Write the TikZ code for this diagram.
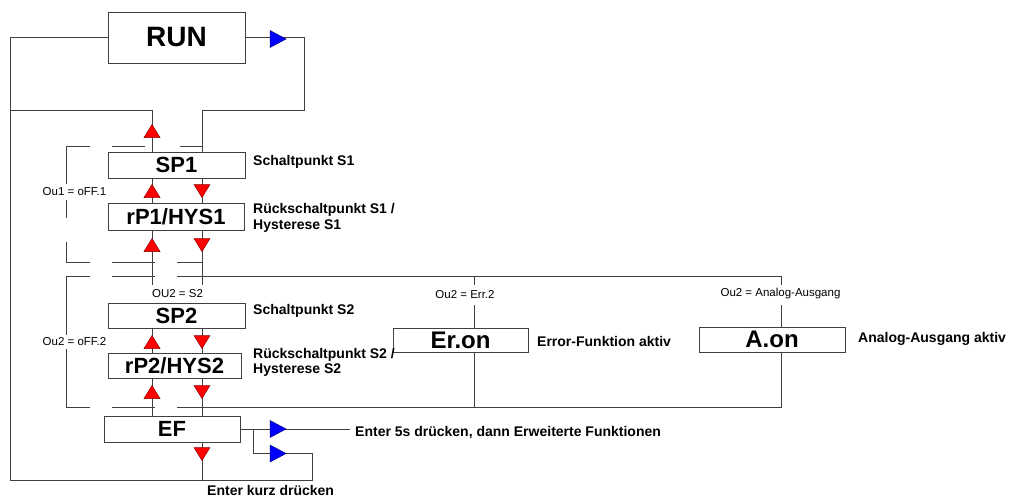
\documentclass[tikz,border=0pt]{standalone}
\usepackage{fontspec}
\setmainfont{Liberation Sans}
\begin{document}
\begin{tikzpicture}[x=1pt,y=-1pt,
  ln/.style={draw=black!75,line width=1pt},
  box/.style={draw=black!75,line width=1pt,fill=white,inner sep=0pt,font=\bfseries\fontsize{22}{24}\selectfont},
  lbl/.style={inner sep=0pt,anchor=west,align=left,font=\bfseries\fontsize{14}{16}\selectfont},
  sml/.style={inner sep=0pt,font=\fontsize{11.5}{13}\selectfont},
  uptri/.pic={\filldraw[fill=red,draw=red!55!black,line width=0.5pt] (-8,6.5) -- (8,6.5) -- (0,-6.5) -- cycle;},
  dntri/.pic={\filldraw[fill=red,draw=red!55!black,line width=0.5pt] (-8,-6.5) -- (8,-6.5) -- (0,6.5) -- cycle;},
  rttri/.pic={\filldraw[fill=blue,draw=blue!50!black,line width=0.5pt] (-8,-8.5) -- (-8,8.5) -- (8,0) -- cycle;}
]
\useasboundingbox (0,0) rectangle (1011,499);
\fill[white] (0,0) rectangle (1011,499);

% column coordinates
\coordinate (cl) at (152,0);
\coordinate (cr) at (202,0);
\coordinate (ce) at (474,0);
\coordinate (ca) at (781,0);

% boxes
\node[box,minimum width=137pt,minimum height=51pt,font=\bfseries\fontsize{28}{30}\selectfont] (run) at (176.5,37.5) {RUN};
\node[box,minimum width=137pt,minimum height=26pt] (sp1) at (176.5,165) {SP1};
\node[box,minimum width=136pt,minimum height=27pt] (rp1) at (176,216.5) {rP1/HYS1};
\node[box,minimum width=137pt,minimum height=25pt] (sp2) at (176.5,315.5) {SP2};
\node[box,minimum width=133pt,minimum height=25pt] (rp2) at (174.5,365.5) {rP2/HYS2};
\node[box,minimum width=136pt,minimum height=26pt] (ef) at (172,429) {EF};
\node[box,minimum width=135pt,minimum height=24pt,font=\bfseries\fontsize{24}{26}\selectfont] (eron) at (460.5,340) {Er.on};
\node[box,minimum width=146pt,minimum height=25pt,font=\bfseries\fontsize{24}{26}\selectfont] (aon) at (772,339.5) {A.on};

% side labels
\node[lbl] (t1) at (253,162) {Schaltpunkt S1};
\node[lbl] (t2) at (253,218) {Rückschaltpunkt S1 /\\Hysterese S1};
\node[lbl] (t3) at (253,311) {Schaltpunkt S2};
\node[lbl,font=\bfseries\fontsize{14}{15}\selectfont] (t4) at (253,362.5) {Rückschaltpunkt S2 /\\Hysterese S2};
\node[lbl] (t5) at (537,341) {Error-Funktion aktiv};
\node[lbl] (t6) at (858,339) {Analog-Ausgang aktiv};
\node[lbl] (t7) at (355,433) {Enter 5s drücken, dann Erweiterte Funktionen};
\node[lbl] (t8) at (207,490) {Enter kurz drücken};

% small labels
\node[sml] (s1) at (74.5,192) {Ou1 = oFF.1};
\node[sml] (s2) at (74.5,342) {Ou2 = oFF.2};
\node[sml] (s3) at (177.5,294) {OU2 = S2};
\node[sml] (s4) at (465,295) {Ou2 = Err.2};
\node[sml] (s5) at (780.5,294) {Ou2 = Analog-Ausgang};

% main loop lines
\draw[ln] (run.west) -- (10,37.5) -- (10,480) -- (312,480) -- (312,453) -- (253,453) -- (253,429);
\draw[ln] (ef.east) -- (350,429);
\draw[ln] (10,110) -- (152,110) -- (sp1.north -| cl);
\draw[ln] (run.east) -- (304,37.5) -- (304,110) -- (202,110) -- (sp1.north -| cr);
\draw[ln] (sp1.south -| cl) -- (rp1.north -| cl);
\draw[ln] (sp1.south -| cr) -- (rp1.north -| cr);
\draw[ln] (rp1.south -| cl) -- (152,285);
\draw[ln] (rp1.south -| cr) -- (202,285);
\draw[ln] (sp2.south -| cl) -- (rp2.north -| cl);
\draw[ln] (sp2.south -| cr) -- (rp2.north -| cr);
\draw[ln] (rp2.south -| cl) -- (ef.north -| cl);
\draw[ln] (rp2.south -| cr) -- (ef.north -| cr);
\draw[ln] (ef.south -| cr) -- (202,480);

% Ou1 bracket
\draw[ln] (90,146) -- (66,146) -- (66,184);
\draw[ln] (112,146) -- (145,146);
\draw[ln] (180,146) -- (202,146);
\draw[ln] (66,200) -- (66,218);
\draw[ln] (66,242) -- (66,262) -- (90,262);
\draw[ln] (112,262) -- (155,262);
\draw[ln] (177,262) -- (202,262);

% Ou2 bracket
\draw[ln] (90,276) -- (66,276) -- (66,335);
\draw[ln] (66,349) -- (66,407) -- (90,407);
\draw[ln] (112,276) -- (155,276);
\draw[ln] (177,276) -- (781,276) -- (781,285);
\draw[ln] (112,407) -- (155,407);
\draw[ln] (177,407) -- (781,407) -- (aon.south -| ca);
\draw[ln] (781,305) -- (aon.north -| ca);
\draw[ln] (474,276) -- (474,285);
\draw[ln] (474,305) -- (eron.north -| ce);
\draw[ln] (eron.south -| ce) -- (474,407);

% arrowheads
\pic at (152,131) {uptri};
\pic at (152,191) {uptri};
\pic at (202,191) {dntri};
\pic at (152,245) {uptri};
\pic at (202,245) {dntri};
\pic at (152,342) {uptri};
\pic at (202,342) {dntri};
\pic at (152,392) {uptri};
\pic at (202,392) {dntri};
\pic at (202,454) {dntri};
\pic at (278,39) {rttri};
\pic at (278,429) {rttri};
\pic at (278,453.5) {rttri};
\end{tikzpicture}
\end{document}
